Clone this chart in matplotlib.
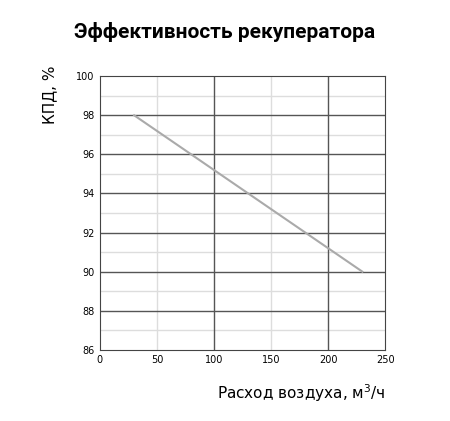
import matplotlib
matplotlib.use("Agg")
import matplotlib.pyplot as plt
from matplotlib.ticker import MultipleLocator

# ── Data ──────────────────────────────────────────────
flow = [30, 230]          # m3/h
efficiency = [98, 90]     # %

fig = plt.figure(figsize=(4.5, 4.21), dpi=100)
ax = fig.add_axes([0.222, 0.169, 0.634, 0.650])

ax.plot(flow, efficiency, color="#aaaaaa", linewidth=1.5, zorder=3)

ax.set_xlim(0, 250)
ax.set_ylim(86, 100)
ax.xaxis.set_major_locator(MultipleLocator(50))
ax.yaxis.set_major_locator(MultipleLocator(2))

for x in range(50, 250, 50):
    dark = x % 100 == 0
    ax.axvline(x, color="#555555" if dark else "#dddddd", linewidth=1.0,
               zorder=2 if dark else 1)
for y in range(87, 100):
    dark = y % 2 == 0
    ax.axhline(y, color="#555555" if dark else "#dddddd", linewidth=1.0,
               zorder=2 if dark else 1)

for s in ax.spines.values():
    s.set_color("#444444")
ax.tick_params(which="both", length=0, labelsize=7, pad=4)

ax.set_ylabel("КПД, %", fontsize=11)
ax.yaxis.set_label_coords(-0.15, 1.04)
ax.yaxis.label.set_horizontalalignment("right")
ax.set_xlabel("Расход воздуха, м$^3$/ч", fontsize=11)
ax.xaxis.set_label_coords(1.0, -0.12)
ax.xaxis.label.set_horizontalalignment("right")

fig.text(0.5, 0.925, "Эффективность рекуператора", ha="center", va="center",
         fontsize=15, fontweight="bold", family="Roboto", fontstretch="condensed")

fig.savefig("out.png", dpi=100, facecolor="white")
